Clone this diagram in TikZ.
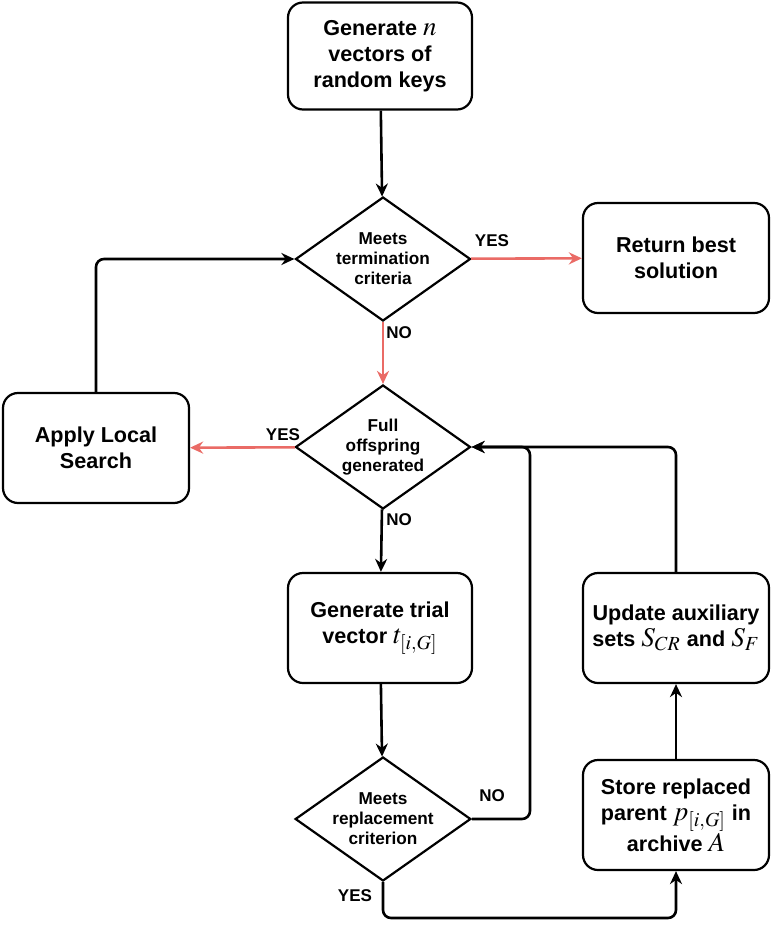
\documentclass[tikz,border=0pt]{standalone}
\usepackage{mathptmx}
\usepackage{fontspec}
\setmainfont{Liberation Sans}
\usetikzlibrary{shapes.geometric,arrows.meta}
\definecolor{flowred}{RGB}{234,107,102}
\newcommand{\mbig}[1]{{\fontsize{13.5}{13}\selectfont$#1$}}

\begin{document}
\begin{tikzpicture}[x=0.5pt,y=-0.5pt,
    box/.style={draw,line width=1.1pt,rounded corners=7.5pt,minimum width=93pt,minimum height=55pt,align=center,font=\fontsize{10.8}{13}\selectfont\bfseries},
    test/.style={draw,line width=1.1pt,diamond,aspect=1.43,inner sep=0pt,minimum width=87.5pt,minimum height=62pt,align=center,font=\fontsize{8.6}{10}\selectfont\bfseries},
    flow/.style={line width=1.3pt,-{Stealth[length=6.5pt,width=6pt]},rounded corners=4pt},
    redflow/.style={flow,draw=flowred},
    lbl/.style={font=\fontsize{8.5}{10}\selectfont\bfseries}]
            \useasboundingbox (0,0) rectangle (773,931);
            % boxes and tests
            \node[box,minimum width=92pt,minimum height=53.5pt] (init) at (380,56) {Generate \mbig{n}\\vectors of\\random keys};
            \node[test] (term) at (383,259) {Meets\\termination\\criteria};
            \node[box] (ret) at (676,258) {Return best\\solution};
            \node[test] (full) at (383,447) {Full\\offspring\\generated};
            \node[box] (ls) at (96,448) {Apply Local\\Search};
            \node[box,minimum width=92pt] (trial) at (380,628) {Generate trial\\vector \mbig{t_{[i,G]}}};
            \node[test] (repl) at (383,819) {Meets\\replacement\\criterion};
            \node[box] (upd) at (676,628) {Update auxiliary\\sets \mbig{S_{CR}} and \mbig{S_F}};
            \node[box] (store) at (676,815) {Store replaced\\parent \mbig{p_{[i,G]}} in\\archive \mbig{A}};
            \coordinate (join) at (530,447);
            \coordinate (low) at (383,918);
            % connectors
            \draw[flow] (init) -- (term);
            \draw[redflow] (term) -- (ret);
            \draw[redflow] (term) -- (full);
            \draw[redflow] (full) -- (ls);
            \draw[flow] (ls.north) |- (term.west);
            \draw[flow] (full) -- (trial);
            \draw[flow] (trial) -- (repl);
            \draw[flow] (repl.east) -| (join) -- (full.east);
            \draw[flow] (upd.north) |- (full.east);
            \draw[flow] (repl.south) -- (low) -| (store.south);
            \draw[flow] (store) -- (upd);
            % labels
            \node[lbl] (yes1) at (492,241) {YES};
            \node[lbl] (no1) at (399,333) {NO};
            \node[lbl] (yes2) at (283,435) {YES};
            \node[lbl] (no2) at (399,520) {NO};
            \node[lbl] (no3) at (492,796) {NO};
            \node[lbl] (yes3) at (355,896) {YES};
        \end{tikzpicture}
\end{document}
